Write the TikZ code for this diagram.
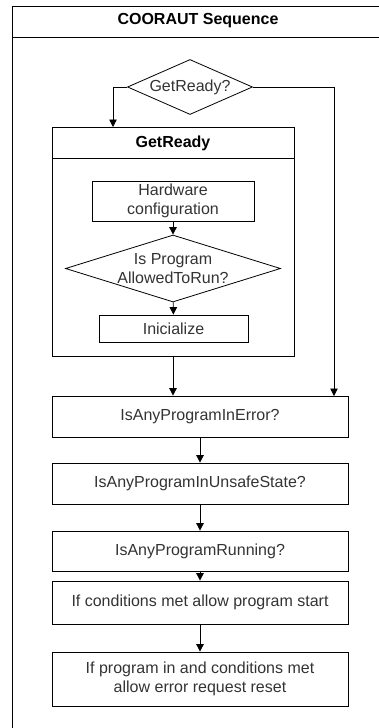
\documentclass[tikz,border=0pt]{standalone}
\usepackage{fontspec}
\setmainfont{Liberation Sans}
\usepackage{xcolor}
\usetikzlibrary{arrows.meta,shapes.geometric}

\definecolor{txt}{HTML}{333333}

\begin{document}
\begin{tikzpicture}[x=1pt, y=-1pt,
  font=\fontsize{16}{19}\selectfont,
  box/.style={rectangle, draw, thick, text=txt, inner sep=0pt, align=center},
  cond/.style={diamond, draw, thick, inner sep=0pt},
  lbl/.style={text=txt, align=center, inner sep=0pt},
  arr/.style={thick, -{Triangle[length=7.5pt,width=7.5pt]}}]
  \useasboundingbox (0,0) rectangle (379,728);
  \clip (0,0) rectangle (379,728);

  % outer lane, cut at the right and bottom
  \draw[thick] (12,6) rectangle (400,760);
  \draw[thick] (12,37) -- (400,37);
  \node[text=black, font=\fontsize{16}{19}\selectfont\bfseries] (lane) at (198,21) {COORAUT Sequence};

  \node[cond, minimum width=125pt, minimum height=55pt] (gr) at (190,87) {};
  \node[lbl] (grlbl) at (gr) {GetReady?};

  % GetReady container
  \node[box, minimum width=242pt, minimum height=229pt] (cont) at (173,241.5) {};
  \draw[thick] (52,158) -- (294,158);
  \node[text=black, font=\fontsize{16}{19}\selectfont\bfseries] (conttitle) at (173,143) {GetReady};
  \node[box, minimum width=162pt, minimum height=40pt] (hw) at (173,201) {Hardware\\configuration};
  \node[cond, minimum width=215pt, minimum height=67pt] (allow) at (173,268.5) {};
  \node[lbl] (allowlbl) at (allow) {Is Program\\AllowedToRun?};
  \node[box, minimum width=149pt, minimum height=27pt] (init) at (173.5,328.5) {Inicialize};

  % main sequence
  \node[box, minimum width=296pt, minimum height=41pt] (err) at (200,416.5) {IsAnyProgramInError?};
  \node[box, minimum width=296pt, minimum height=41pt] (unsafe) at (200,483.5) {IsAnyProgramInUnsafeState?};
  \node[box, minimum width=296pt, minimum height=40pt] (running) at (200,551) {IsAnyProgramRunning?};
  \node[box, minimum width=296pt, minimum height=43pt] (start) at (200,602.5) {If conditions met allow program start};
  \node[box, minimum width=296pt, minimum height=54pt] (reset) at (200,679) {If program in and conditions met\\allow error request reset};

  \coordinate (lin) at (113,127);
  \coordinate (rin) at (334,396);
  \draw[arr] (gr.west) -| (lin);
  \draw[arr] (gr.east) -| (rin);
  \draw[arr] (hw) -- (allow);
  \draw[arr] (allow) -- (init);
  \draw[arr] (cont.south) -- (cont.south |- err.north);
  \draw[arr] (err) -- (unsafe);
  \draw[arr] (unsafe) -- (running);
  \draw[arr] (running) -- (start);
  \draw[arr] (start) -- (reset);
\end{tikzpicture}
\end{document}
